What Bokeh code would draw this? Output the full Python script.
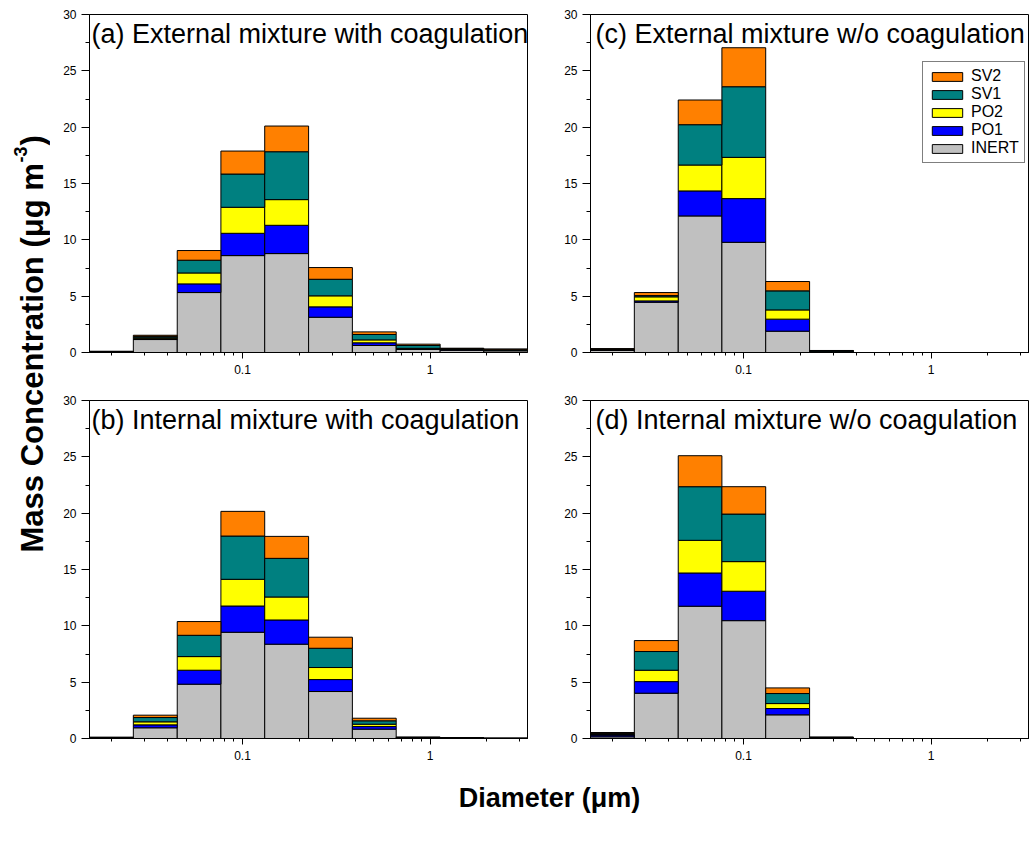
import numpy as np
from bokeh.plotting import figure
from bokeh.layouts import row, column
from bokeh.models import (ColumnDataSource, Legend, LegendItem, FixedTicker, Range1d,
                          Label, BasicTickFormatter)
from bokeh.embed import file_html
from bokeh.resources import INLINE

# ---------------- data ----------------
bin_edges = [0.0153, 0.0262, 0.0449, 0.0767, 0.1313, 0.225, 0.385, 0.659, 1.13, 1.93, 3.3]
species = ["INERT", "PO1", "PO2", "SV1", "SV2"]
colors = ["#C0C0C0", "#0000FF", "#FFFF00", "#008080", "#FF8000"]

# (a) External mixture with coagulation
a_inert = [0.05, 1.15, 5.32, 8.60, 8.78, 3.13, 0.62, 0.27, 0.20, 0.15]
a_po1   = [0.01, 0.08, 0.77, 1.98, 2.51, 0.92, 0.24, 0.05, 0.04, 0.03]
a_po2   = [0.01, 0.08, 0.97, 2.31, 2.28, 0.98, 0.26, 0.05, 0.04, 0.03]
a_sv1   = [0.02, 0.12, 1.13, 2.95, 4.25, 1.47, 0.48, 0.25, 0.06, 0.04]
a_sv2   = [0.02, 0.10, 0.86, 2.04, 2.28, 1.04, 0.23, 0.12, 0.04, 0.07]

# (b) Internal mixture with coagulation
b_inert = [0.05, 0.95, 4.82, 9.43, 8.37, 4.17, 0.83, 0.06, 0.03, 0.01]
b_po1   = [0.01, 0.26, 1.24, 2.33, 2.15, 1.06, 0.23, 0.015, 0.005, 0.0]
b_po2   = [0.01, 0.27, 1.21, 2.37, 2.04, 1.07, 0.21, 0.015, 0.005, 0.0]
b_sv1   = [0.02, 0.38, 1.89, 3.84, 3.43, 1.71, 0.30, 0.015, 0.005, 0.0]
b_sv2   = [0.03, 0.21, 1.22, 2.19, 1.95, 0.98, 0.23, 0.015, 0.005, 0.0]

# (c) External mixture w/o coagulation
c_inert = [0.20, 4.46, 12.12, 9.78, 1.89, 0.08, 0.0, 0.0, 0.0, 0.0]
c_po1   = [0.02, 0.12, 2.22, 3.88, 1.07, 0.02, 0.0, 0.0, 0.0, 0.0]
c_po2   = [0.02, 0.36, 2.30, 3.66, 0.82, 0.02, 0.0, 0.0, 0.0, 0.0]
c_sv1   = [0.03, 0.11, 3.58, 6.27, 1.69, 0.04, 0.0, 0.0, 0.0, 0.0]
c_sv2   = [0.08, 0.27, 2.19, 3.46, 0.83, 0.02, 0.0, 0.0, 0.0, 0.0]

# (d) Internal mixture w/o coagulation
d_inert = [0.15, 4.02, 11.74, 10.46, 2.10, 0.06, 0.0, 0.0, 0.0, 0.0]
d_po1   = [0.15, 1.03, 2.95, 2.61, 0.56, 0.015, 0.0, 0.0, 0.0, 0.0]
d_po2   = [0.05, 1.01, 2.90, 2.63, 0.44, 0.015, 0.0, 0.0, 0.0, 0.0]
d_sv1   = [0.10, 1.66, 4.76, 4.22, 0.89, 0.015, 0.0, 0.0, 0.0, 0.0]
d_sv2   = [0.08, 0.97, 2.75, 2.43, 0.50, 0.015, 0.0, 0.0, 0.0, 0.0]

titles = ["(a) External mixture with coagulation",
          "(b) Internal mixture with coagulation",
          "(c) External mixture w/o coagulation",
          "(d) Internal mixture w/o coagulation"]

x_major = [0.1, 1]
x_minor = [0.02, 0.03, 0.04, 0.05, 0.06, 0.07, 0.08, 0.09,
           0.2, 0.3, 0.4, 0.5, 0.6, 0.7, 0.8, 0.9, 2, 3]
y_major = [0, 5, 10, 15, 20, 25, 30]
y_minor = [2.5, 7.5, 12.5, 17.5, 22.5, 27.5]

FONT = "Liberation Sans"


def make_panel(title, layers, legend=False, mbl=39, mbr=23, mbt=14, mbb=40, tx=2):
    p = figure(x_axis_type="log", x_range=Range1d(bin_edges[0], bin_edges[-1]),
               y_range=Range1d(0, 30), frame_width=438, frame_height=338,
               min_border_left=mbl, min_border_right=mbr, min_border_top=mbt,
               min_border_bottom=mbb, toolbar_location=None, output_backend="svg",
               background_fill_color="white", border_fill_color="white")
    p.xgrid.visible = False
    p.ygrid.visible = False
    p.outline_line_color = "black"
    p.outline_line_width = 1
    p.outline_line_alpha = 1.0

    left = np.array(bin_edges[:-1])
    right = np.array(bin_edges[1:])
    bottom = np.zeros(len(left))
    rends = []
    for name, vals, col in zip(species, layers, colors):
        top = bottom + np.array(vals)
        src = ColumnDataSource(dict(left=left, right=right, bottom=bottom.copy(), top=top))
        r = p.quad(left="left", right="right", bottom="bottom", top="top", source=src,
                   fill_color=col, line_color="black", line_width=1)
        rends.append((name, r))
        bottom = top

    xa = p.xaxis[0]
    xa.ticker = FixedTicker(ticks=x_major, minor_ticks=x_minor)
    xa.formatter = BasicTickFormatter()
    xa.major_label_overrides = {0.1: "0.1", 1: "1"}
    xa.major_tick_out = 6
    xa.major_tick_in = 0
    xa.minor_tick_out = 3
    xa.minor_tick_in = 0
    xa.major_label_standoff = 6
    xa.major_label_text_font = FONT
    xa.major_label_text_font_size = "12px"
    xa.major_label_text_color = "black"
    xa.axis_line_color = "black"

    ya = p.yaxis[0]
    ya.ticker = FixedTicker(ticks=y_major, minor_ticks=y_minor)
    ya.major_tick_out = 8
    ya.major_tick_in = 0
    ya.minor_tick_out = 4
    ya.minor_tick_in = 0
    ya.major_label_standoff = 5
    ya.major_label_text_font = FONT
    ya.major_label_text_font_size = "12px"
    ya.major_label_text_color = "black"
    ya.axis_line_color = "black"

    p.add_layout(Label(x=tx, y=334, x_units="screen", y_units="screen", text=title,
                       text_font=FONT, text_font_size="27px", text_color="black",
                       text_align="left", text_baseline="top"))

    if legend:
        items = [LegendItem(label=n, renderers=[r]) for n, r in reversed(rends)]
        lg = Legend(items=items, location=(332, 189), border_line_color="black",
                    border_line_width=1, background_fill_color="white",
                    background_fill_alpha=1.0, glyph_width=38, glyph_height=11,
                    label_text_font=FONT, label_text_font_size="16px",
                    label_text_color="black", label_standoff=5, spacing=0,
                    padding=5, margin=0, label_height=18)
        p.add_layout(lg, "center")
    return p


pa = make_panel(titles[0], [a_inert, a_po1, a_po2, a_sv1, a_sv2], mbl=39, mbr=23, mbt=14, mbb=40, tx=2)
pc = make_panel(titles[2], [c_inert, c_po1, c_po2, c_sv1, c_sv2], legend=True, mbl=40, mbr=2, mbt=14, mbb=40, tx=5)
pb = make_panel(titles[1], [b_inert, b_po1, b_po2, b_sv1, b_sv2], mbl=39, mbr=23, mbt=8, mbb=30, tx=2)
pd = make_panel(titles[3], [d_inert, d_po1, d_po2, d_sv1, d_sv2], mbl=40, mbr=2, mbt=8, mbb=30, tx=5)

# x-axis title strip
xlab = figure(width=980, height=72, toolbar_location=None, output_backend="svg",
              x_axis_location=None, y_axis_location=None, min_border=0,
              outline_line_color=None)
xlab.xgrid.visible = False
xlab.ygrid.visible = False
xlab.add_layout(Label(x=499, y=43, x_units="screen", y_units="screen",
                      text="Diameter (\u03bcm)", text_font=FONT, text_font_size="27px",
                      text_font_style="bold", text_align="center", text_baseline="middle",
                      text_color="black"))

# y-axis title strip
H = 840
ylab = figure(width=50, height=H, toolbar_location=None, output_backend="svg",
              x_axis_location=None, y_axis_location=None, min_border=0,
              outline_line_color=None)
ylab.xgrid.visible = False
ylab.ygrid.visible = False
y0 = H - 552            # bottom end of the label (screen y = 552)
main_len = 389
ylab.add_layout(Label(x=32, y=y0, x_units="screen", y_units="screen",
                      text="Mass Concentration (\u03bcg m", text_font=FONT,
                      text_font_size="31px", text_font_style="bold", angle=np.pi / 2,
                      text_align="left", text_baseline="middle", text_color="black"))
ylab.add_layout(Label(x=20, y=y0 + main_len + 1, x_units="screen", y_units="screen",
                      text="-3", text_font=FONT, text_font_size="18px",
                      text_font_style="bold", angle=np.pi / 2,
                      text_align="left", text_baseline="middle", text_color="black"))
ylab.add_layout(Label(x=32, y=y0 + main_len + 18, x_units="screen", y_units="screen",
                      text=")", text_font=FONT, text_font_size="31px",
                      text_font_style="bold", angle=np.pi / 2,
                      text_align="left", text_baseline="middle", text_color="black"))

layout = row(ylab, column(row(pa, pc), row(pb, pd), xlab))

open("out.html", "w").write(file_html(layout, INLINE))
